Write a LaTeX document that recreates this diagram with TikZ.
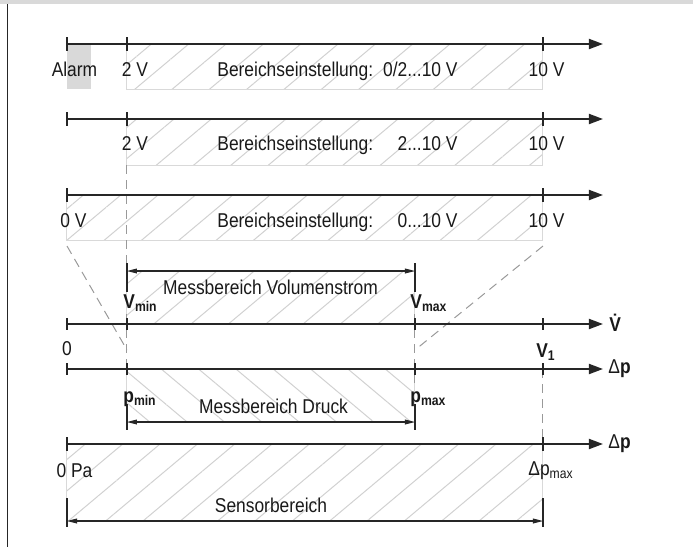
\documentclass[tikz,border=0pt]{standalone}
\usepackage{fontspec}
\setmainfont{Liberation Sans}[FakeStretch=0.87]
\usetikzlibrary{calc}
\usetikzlibrary{positioning}
\usetikzlibrary{arrows.meta}
\usetikzlibrary{patterns.meta}
\tikzset{
	achse/.style={draw=black!85, line width=0.9pt, -{Triangle[length=7pt,width=5pt]}},
	strich/.style={draw=black!85, line width=0.7pt},
	feld/.style={
		draw=black!15, line width=0.5pt,
		pattern={Lines[angle=40,distance=12pt,line width=0.5pt]},
		pattern color=black!18},
	feldrueck/.style={feld, pattern={Lines[angle=-40,distance=12pt,line width=0.5pt]}},
	masslinie/.style={draw=black!85, line width=0.55pt,
		{Triangle[length=5pt,width=2.4pt]}-{Triangle[length=5pt,width=2.4pt]}},
	hilfslinie/.style={draw=black!40, line width=0.5pt, dash pattern=on 4.5pt off 3pt},
	beschr/.style={font=\fontsize{10}{12}\selectfont, text=black!90, inner sep=0pt},
}

\begin{document}
\begin{tikzpicture}[x=0.5pt,y=-0.5pt]
	\useasboundingbox (0,0) rectangle (693,547);
	\fill[black!15] (0,0) rectangle (693,4);
	\draw[black!85, line width=0.7pt] (7.5,4) -- (7.5,547);

	% Felder
	\fill[black!15] (67,44) rectangle (91,89);
	\path[feld] (127,44) rectangle (543,89);
	\path[feld] (127,119) rectangle (543,165);
	\path[feld] (67,195) rectangle (543,240);
	\path[feld] (127,271) rectangle (415,324);
	\path[feldrueck] (127,369) rectangle (415,422);
	\path[feld] (67,444) rectangle (543,521);

	% Hilfslinien
	\coordinate (h1) at (127,165);
	\coordinate (h2) at (127,264);
	\coordinate (h3) at (127,314);
	\coordinate (h4) at (127,369);
	\coordinate (h5) at (415,314);
	\coordinate (h6) at (415,386);
	\coordinate (h7) at (543,369);
	\coordinate (h8) at (543,444);
	\coordinate (d1) at (67,246);
	\coordinate (d2) at (127,350);
	\coordinate (d3) at (543,246);
	\coordinate (d4) at (415,350);
	\draw[hilfslinie] (h1) -- (h2);
	\draw[hilfslinie] (h3) -- (h4);
	\draw[hilfslinie] (h5) -- (h6);
	\draw[hilfslinie] (h7) -- (h8);
	\draw[hilfslinie] (d1) -- (d2);
	\draw[hilfslinie] (d3) -- (d4);

	% Achsen
	\foreach \n/\y in {a/44,b/119,c/195,d/324,e/369,f/444}{
		\coordinate (\n0) at (67,\y);
		\coordinate (\n1) at (603,\y);
		\draw[achse] (\n0) -- (\n1);
	}
	\foreach \x in {67,127,543} \draw[strich] (\x,37) -- (\x,51);
	\foreach \x in {67,127,543} \draw[strich] (\x,112) -- (\x,126);
	\foreach \x in {67,543} \draw[strich] (\x,188) -- (\x,202);
	\foreach \x in {67,127,415,543} \draw[strich] (\x,318) -- (\x,330);
	\foreach \x in {67,127,415,543} \draw[strich] (\x,363) -- (\x,375);
	\foreach \x in {67,543} \draw[strich] (\x,437) -- (\x,451);

	% Masslinien
	\coordinate (vs) at (127,271);
	\coordinate (ve) at (415,271);
	\coordinate (ps) at (127,422);
	\coordinate (pe) at (415,422);
	\coordinate (ss) at (67,521);
	\coordinate (se) at (543,521);
	\draw[strich, line width=0.55pt] ($(vs)+(0,-8)$) -- ($(vs)+(0,21)$);
	\draw[strich, line width=0.55pt] ($(ve)+(0,-8)$) -- ($(ve)+(0,21)$);
	\draw[strich, line width=0.55pt] ($(ps)+(0,-18)$) -- ($(ps)+(0,8)$);
	\draw[strich, line width=0.55pt] ($(pe)+(0,-18)$) -- ($(pe)+(0,8)$);
	\draw[strich, line width=0.55pt] ($(ss)+(0,-23)$) -- ($(ss)+(0,6)$);
	\draw[strich, line width=0.55pt] ($(se)+(0,-23)$) -- ($(se)+(0,6)$);
	\draw[masslinie] (vs) -- (ve);
	\draw[masslinie] (ps) -- (pe);
	\draw[masslinie] (ss) -- (se);

	% Beschriftung
	\node[beschr, anchor=base] (alarm) at (74.5,76) {Alarm};
	\node[beschr, anchor=base] (zweiA) at (135,76) {2 V};
	\node[beschr, anchor=base west] (bereichA) at (217,76) {Bereichseinstellung:};
	\node[beschr, anchor=base east] (wertA) at (458,76) {0/2...10 V};
	\node[beschr, anchor=base] (zehnA) at (546.5,76) {10 V};

	\node[beschr, anchor=base] (zweiB) at (135,150) {2 V};
	\node[beschr, anchor=base west] (bereichB) at (217,150) {Bereichseinstellung:};
	\node[beschr, anchor=base east] (wertB) at (458,150) {2...10 V};
	\node[beschr, anchor=base] (zehnB) at (546.5,150) {10 V};

	\node[beschr, anchor=base] (nullC) at (73.5,227) {0 V};
	\node[beschr, anchor=base west] (bereichC) at (217,227) {Bereichseinstellung:};
	\node[beschr, anchor=base east] (wertC) at (458,227) {0...10 V};
	\node[beschr, anchor=base] (zehnC) at (546.5,227) {10 V};

	\node[beschr, anchor=base] (mbvol) at (270.5,294) {Messbereich Volumenstrom};
	\node[beschr, anchor=base west] (vmin) at (123,308) {\textbf{V\textsubscript{min}}};
	\node[beschr, anchor=base west] (vmax) at (410,308) {\textbf{V\textsubscript{max}}};
	\node[beschr, anchor=base west] (vpunkt) at (609,331) {\textbf{\.{V}}};
	\node[beschr, anchor=base] (nullD) at (67,355) {0};
	\node[beschr, anchor=base] (veins) at (546,357) {\textbf{V\textsubscript{1}}};
	\node[beschr, anchor=base west] (dpE) at (608,373) {Δ\textbf{p}};

	\node[beschr, anchor=base west] (pmin) at (123,402) {\textbf{p\textsubscript{min}}};
	\node[beschr, anchor=base west] (pmax) at (410,402) {\textbf{p\textsubscript{max}}};
	\node[beschr, anchor=base] (mbdruck) at (273.5,413) {Messbereich Druck};

	\node[beschr, anchor=base west] (dpF) at (608,448) {Δ\textbf{p}};
	\node[beschr, anchor=base] (nullpa) at (74.5,477) {0 Pa};
	\node[beschr, anchor=base west] (dpmax) at (528,475) {Δp\textsubscript{max}};
	\node[beschr, anchor=base] (sensor) at (271,512) {Sensorbereich};
\end{tikzpicture}
\end{document}
